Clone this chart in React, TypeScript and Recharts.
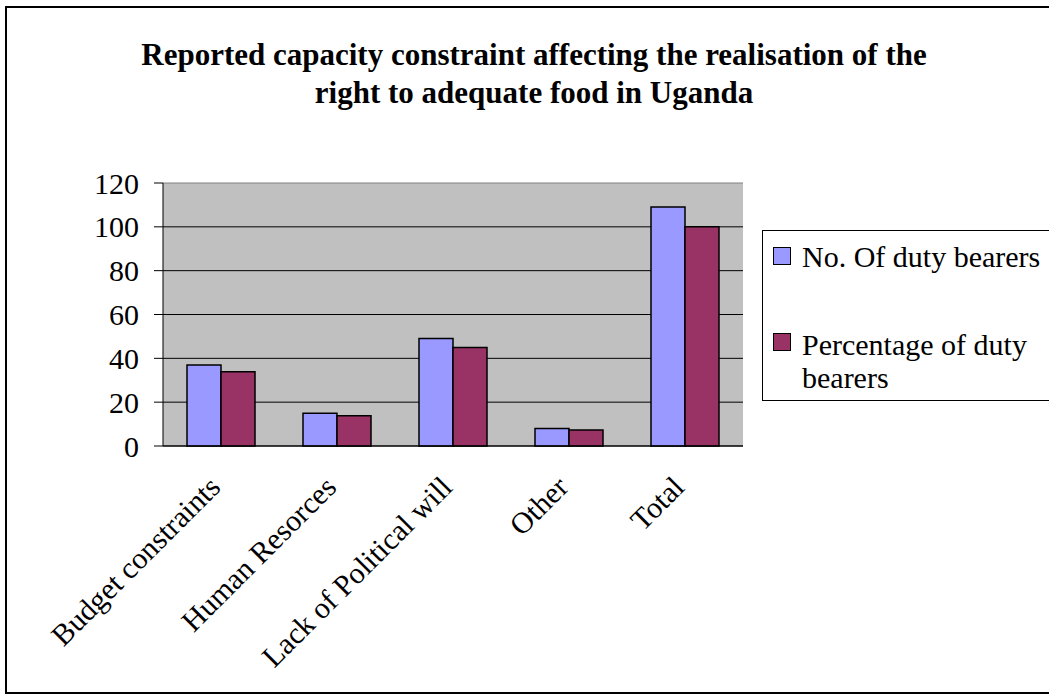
import React from 'react';
import { BarChart, Bar, XAxis, YAxis, CartesianGrid } from 'recharts';

const categories = ['Budget constraints', 'Human Resorces', 'Lack of Political will', 'Other', 'Total'];
const dutyBearers = [37, 15, 49, 8, 109];
const percentBearers = [33.9, 13.8, 45, 7.3, 100];
const yTicks = [0, 20, 40, 60, 80, 100, 120];
const seriesNames = ['No. Of duty bearers', 'Percentage of duty bearers'];
const seriesColors = ['#9999FF', '#993366'];

const chartData = categories.map((name, i) => ({
  name,
  count: dutyBearers[i],
  percent: percentBearers[i],
}));

const FONT = '"Liberation Serif", "Times New Roman", serif';
const PLOT_TOP = 183;

// rotated category labels, like the spreadsheet original
const RotatedTick = (props: any) => {
  const { x, y, payload } = props;
  return (
    <g transform={`translate(${x + 1},${y + 43})`}>
      <text x={0} y={0} textAnchor="end" transform="rotate(-45)" fontSize={30} fontFamily={FONT} fill="#000">
        {payload.value}
      </text>
    </g>
  );
};

// top gridline is drawn grey like the plot frame, the rest black
const GridLine = (props: any) => {
  const { x1, x2, y1, y2 } = props;
  const isTop = Math.abs(y1 - PLOT_TOP) < 1;
  return <line x1={x1} x2={x2} y1={y1} y2={y2} stroke={isTop ? '#808080' : '#000'} strokeWidth={1} />;
};

const edgeTicks = categories.map((_, i) => i).concat([categories.length]);

export default function App() {
  return (
    <div style={{ position: 'absolute', left: 0, top: 0, width: 1049, height: 699, overflow: 'hidden', background: '#fff' }}>
      <div
        style={{
          position: 'absolute',
          left: 5,
          top: 6,
          width: 1080,
          height: 684,
          border: '2px solid #000',
        }}
      />
      <div
        style={{
          position: 'absolute',
          left: 0,
          top: 36,
          width: 1068,
          textAlign: 'center',
          fontFamily: FONT,
          fontWeight: 'bold',
          fontSize: 31,
          lineHeight: '38px',
        }}
      >
        Reported capacity constraint affecting the realisation of the
        <br />
        right to adequate food in Uganda
      </div>

      <div style={{ position: 'absolute', left: 0, top: 0 }}>
        <BarChart
          width={1049}
          height={699}
          data={chartData}
          margin={{ top: PLOT_TOP, right: 306, bottom: 13, left: 83 }}
          barCategoryGap={24}
          barGap={0}
        >
          <CartesianGrid vertical={false} horizontal={GridLine} fill="#C0C0C0" />
          <XAxis
            xAxisId="edges"
            type="number"
            domain={[0, categories.length]}
            ticks={edgeTicks}
            tick={false}
            tickSize={9}
            tickLine={{ stroke: '#000' }}
            axisLine={false}
            height={0}
          />
          <XAxis
            dataKey="name"
            interval={0}
            height={240}
            tickSize={0}
            tickMargin={0}
            tickLine={false}
            axisLine={{ stroke: '#000' }}
            tick={<RotatedTick />}
          />
          <YAxis
            domain={[0, 120]}
            ticks={yTicks}
            width={80}
            tickSize={9}
            tickMargin={15}
            axisLine={{ stroke: '#000' }}
            tickLine={{ stroke: '#000' }}
            tick={{ fontSize: 30, fontFamily: FONT, fill: '#000' }}
          />
          <YAxis
            yAxisId="right"
            orientation="right"
            width={0}
            tick={false}
            tickLine={false}
            axisLine={{ stroke: '#808080' }}
          />
          <Bar dataKey="count" name={seriesNames[0]} fill={seriesColors[0]} stroke="#000" strokeWidth={1.5} isAnimationActive={false} />
          <Bar dataKey="percent" name={seriesNames[1]} fill={seriesColors[1]} stroke="#000" strokeWidth={1.5} isAnimationActive={false} />
        </BarChart>
      </div>

      <div
        style={{
          position: 'absolute',
          left: 762,
          top: 230,
          width: 320,
          height: 169,
          border: '1px solid #000',
          background: '#fff',
          fontFamily: FONT,
          fontSize: 30,
          lineHeight: '33px',
        }}
      >
        {seriesNames.map((name, i) => (
          <React.Fragment key={name}>
            <div
              style={{
                position: 'absolute',
                left: 10,
                top: i === 0 ? 16 : 102,
                width: 16,
                height: 16,
                border: '1.5px solid #000',
                background: seriesColors[i],
              }}
            />
            <div style={{ position: 'absolute', left: 39, top: i === 0 ? 9 : 97, width: 250 }}>{name}</div>
          </React.Fragment>
        ))}
      </div>
    </div>
  );
}
